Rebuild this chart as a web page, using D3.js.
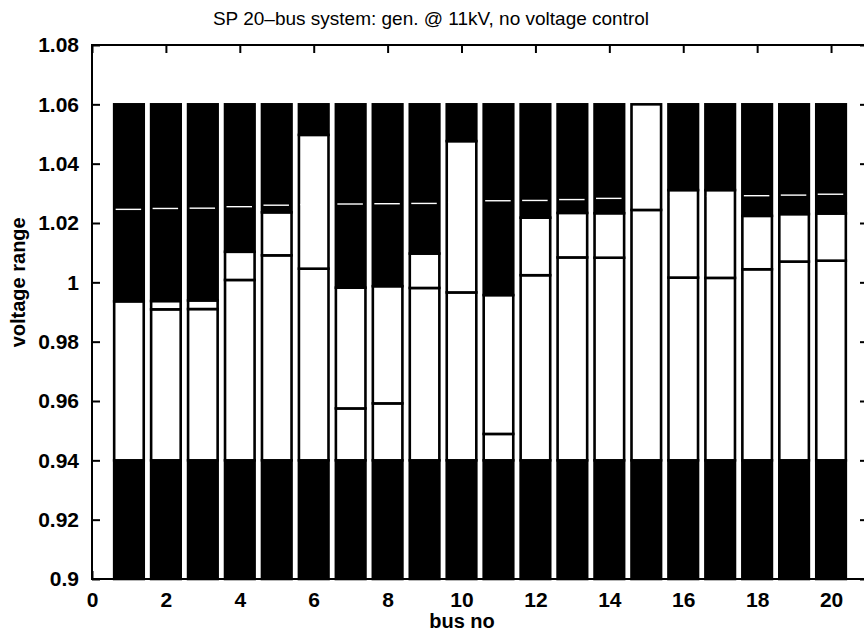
<!DOCTYPE html>
<html>
<head>
<meta charset="utf-8">
<script src="https://cdn.jsdelivr.net/npm/d3@7/dist/d3.min.js"></script>
<style>
  html, body { margin: 0; padding: 0; background: #fff; }
  svg { display: block; }
  text { font-family: "Liberation Sans", Arial, Helvetica, sans-serif; fill: #000; }
</style>
</head>
<body>
<svg id="chart" width="864" height="640"></svg>
<script>
// ---- data ----
const buses = [1, 2, 3, 4, 5, 6, 7, 8, 9, 10, 11, 12, 13, 14, 15, 16, 17, 18, 19, 20];
const lowerLimit = [0.94, 0.94, 0.94, 0.94, 0.94, 0.94, 0.94, 0.94, 0.94, 0.94,
                    0.94, 0.94, 0.94, 0.94, 0.94, 0.94, 0.94, 0.94, 0.94, 0.94];
const midLevel   = [0.9936, 0.9909, 0.9910, 1.0008, 1.0091, 1.0046, 0.9575, 0.9592, 0.9981, 0.9966,
                    0.9489, 1.0024, 1.0084, 1.0083, 1.0244, 1.0016, 1.0015, 1.0044, 1.0070, 1.0073];
const upperLevel = [0.9936, 0.9937, 0.9939, 1.0103, 1.0236, 1.0497, 0.9982, 0.9987, 1.0097, 1.0476,
                    0.9957, 1.0218, 1.0234, 1.0233, 1.0600, 1.0311, 1.0311, 1.0224, 1.0230, 1.0232];
const upperLimit = [1.06, 1.06, 1.06, 1.06, 1.06, 1.06, 1.06, 1.06, 1.06, 1.06,
                    1.06, 1.06, 1.06, 1.06, 1.06, 1.06, 1.06, 1.06, 1.06, 1.06];
const refLevel   = [1.0246, 1.0249, 1.0250, 1.0255, 1.0260, 1.0262, 1.0264, 1.0265, 1.0266, 1.0270,
                    1.0275, 1.0276, 1.0279, 1.0283, 1.0285, 1.0288, 1.0290, 1.0292, 1.0294, 1.0297];
const xTicks = [0, 2, 4, 6, 8, 10, 12, 14, 16, 18, 20];
const yTicks = [0.9, 0.92, 0.94, 0.96, 0.98, 1.0, 1.02, 1.04, 1.06, 1.08];
const yTickLabels = ["0.9", "0.92", "0.94", "0.96", "0.98", "1", "1.02", "1.04", "1.06", "1.08"];
const titleText = "SP 20\u2013bus system: gen. @ 11kV, no voltage control";
const xLabel = "bus no";
const yLabel = "voltage range";

// ---- layout ----
const margin = { left: 92, right: -4, top: 45, bottom: 61 };
const W = 864, H = 640;
const svg = d3.select("#chart");

const x = d3.scaleLinear().domain([0, 21]).range([margin.left, W - margin.right]);
const y = d3.scaleLinear().domain([0.9, 1.08]).range([H - margin.bottom, margin.top]);
const barW = 0.8;

// build stacked segments from the arrays
const segments = [];
buses.forEach((b, i) => {
  segments.push({ bus: b, y0: y.domain()[0], y1: lowerLimit[i], fill: "#000" });
  segments.push({ bus: b, y0: lowerLimit[i], y1: midLevel[i], fill: "#fff" });
  segments.push({ bus: b, y0: midLevel[i], y1: upperLevel[i], fill: "#fff" });
  segments.push({ bus: b, y0: upperLevel[i], y1: upperLimit[i], fill: "#000" });
});

const plot = svg.append("g");
plot.selectAll("rect.seg")
  .data(segments)
  .join("rect")
  .attr("class", "seg")
  .attr("x", d => x(d.bus - barW / 2))
  .attr("width", d => x(d.bus + barW / 2) - x(d.bus - barW / 2))
  .attr("y", d => y(d.y1))
  .attr("height", d => Math.max(0, y(d.y0) - y(d.y1)))
  .attr("fill", d => d.fill)
  .attr("stroke", "#000")
  .attr("stroke-width", 2.6);

// white reference level line within each bar
plot.selectAll("line.ref")
  .data(buses)
  .join("line")
  .attr("class", "ref")
  .attr("x1", (d) => x(d - 0.36))
  .attr("x2", (d) => x(d + 0.33))
  .attr("y1", (d, i) => y(refLevel[i]))
  .attr("y2", (d, i) => y(refLevel[i]))
  .attr("stroke", "#fff")
  .attr("stroke-width", 1.4);

// ---- axes (MATLAB style: box, inward ticks) ----
const tickLen = 8;
const axisG = svg.append("g");
const xr = x.range(), yr = y.range();

axisG.append("rect")
  .attr("x", xr[0]).attr("y", yr[1])
  .attr("width", xr[1] - xr[0]).attr("height", yr[0] - yr[1])
  .attr("fill", "none").attr("stroke", "#000").attr("stroke-width", 2);

// bottom axis with labels
const xAxis = d3.axisBottom(x).tickValues(xTicks).tickSizeInner(-tickLen).tickSizeOuter(0).tickPadding(13)
  .tickFormat(d3.format("d"));
const gx = axisG.append("g").attr("transform", `translate(0,${yr[0]})`).call(xAxis);
gx.select(".domain").remove();
gx.selectAll("line").attr("stroke", "#000").attr("stroke-width", 2);
gx.selectAll("text").style("font-size", "21px").style("font-weight", "bold")
  .style("font-family", "'Liberation Sans', Arial, sans-serif");

// top axis ticks
const xTop = d3.axisTop(x).tickValues(xTicks).tickSizeInner(-tickLen).tickSizeOuter(0).tickFormat("");
const gxt = axisG.append("g").attr("transform", `translate(0,${yr[1]})`).call(xTop);
gxt.select(".domain").remove();
gxt.selectAll("line").attr("stroke", "#000").attr("stroke-width", 2);

// left axis with labels
const yAxis = d3.axisLeft(y).tickValues(yTicks).tickSizeInner(-tickLen).tickSizeOuter(0).tickPadding(13)
  .tickFormat((d, i) => yTickLabels[i]);
const gy = axisG.append("g").attr("transform", `translate(${xr[0]},0)`).call(yAxis);
gy.select(".domain").remove();
gy.selectAll("line").attr("stroke", "#000").attr("stroke-width", 2);
gy.selectAll("text").style("font-size", "21px").style("font-weight", "bold")
  .style("font-family", "'Liberation Sans', Arial, sans-serif");

// right axis ticks
const yRight = d3.axisRight(y).tickValues(yTicks).tickSizeInner(-tickLen).tickSizeOuter(0).tickFormat("");
const gyr = axisG.append("g").attr("transform", `translate(${xr[1]},0)`).call(yRight);
gyr.select(".domain").remove();
gyr.selectAll("line").attr("stroke", "#000").attr("stroke-width", 2);

// ---- titles ----
svg.append("text")
  .attr("x", 431).attr("y", 25)
  .attr("text-anchor", "middle")
  .style("font-size", "19px")
  .text(titleText);

svg.append("text")
  .attr("x", 462).attr("y", 628)
  .attr("text-anchor", "middle")
  .style("font-size", "20px").style("font-weight", "bold")
  .text(xLabel);

svg.append("text")
  .attr("transform", `translate(25,${y(1.0)}) rotate(-90)`)
  .attr("text-anchor", "middle")
  .style("font-size", "20px").style("font-weight", "bold")
  .text(yLabel);
</script>
</body>
</html>
